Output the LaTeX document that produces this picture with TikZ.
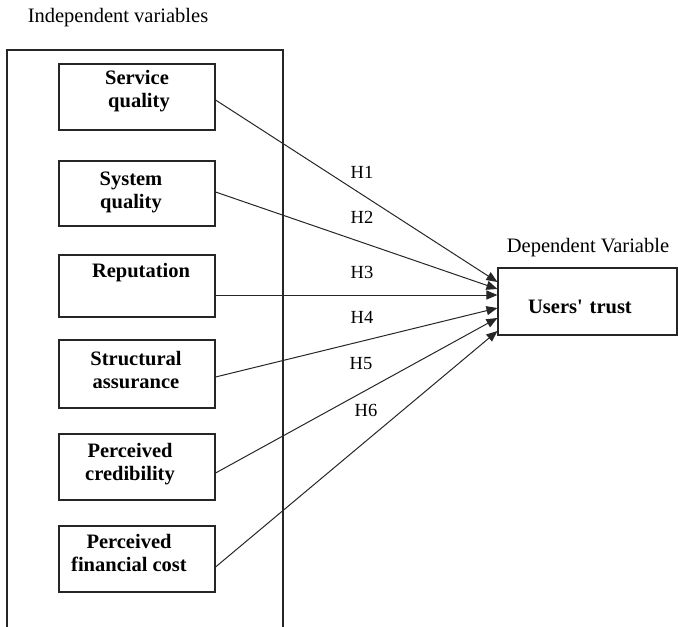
\documentclass[tikz,border=0pt]{standalone}
\usepackage{fontspec}
\setmainfont{Liberation Serif}
\usetikzlibrary{calc,arrows.meta}
\begin{document}
\begin{tikzpicture}[x=1pt,y=-1pt,
  varbox/.style={draw=black!85,line width=1.1pt,minimum width=156pt,inner sep=0pt},
  boxtext/.style={font=\fontsize{20.5}{23}\selectfont\bfseries,align=center,inner sep=0pt},
  plain/.style={font=\fontsize{20.5}{23}\selectfont,inner sep=0pt},
  hlabel/.style={font=\fontsize{18.5}{22}\selectfont,inner sep=0pt},
  hyp/.style={draw=black!85,line width=1pt,-{Triangle[length=11pt,width=9pt]}}]
\useasboundingbox (0,0) rectangle (678,627);
% outer frame (open at bottom)
\coordinate (fbl) at (7,627);
\coordinate (ftl) at (7,50);
\coordinate (ftr) at (283,50);
\coordinate (fbr) at (283,627);
\draw[black!85,line width=1.2pt] (fbl) -- (ftl) -- (ftr) -- (fbr);
\node[plain] (indep) at (118,18) {Independent variables};
\node[plain] (dep) at (588,248) {Dependent Variable};
% independent variable boxes
\node[varbox,minimum height=66pt] (s1) at (137,97) {};
\node[varbox,minimum height=65pt] (s2) at (137,193.5) {};
\node[varbox,minimum height=62pt] (s3) at (137,286) {};
\node[varbox,minimum height=68pt] (s4) at (137,374) {};
\node[varbox,minimum height=66pt] (s5) at (137,467) {};
\node[varbox,minimum height=66pt] (s6) at (137,559) {};
\node[boxtext] (t1) at (137,91) {Service\\ \hspace*{4pt}quality};
\node[boxtext] (t2) at (131,192) {System\\ quality};
\node[boxtext] (t3) at (141,273) {Reputation};
\node[boxtext] (t4) at (136,370) {Structural\\ assurance};
\node[boxtext] (t5) at (130,464) {Perceived\\ credibility};
\node[boxtext] (t6) at (129,553) {Perceived\\ financial cost};
% dependent variable box
\node[varbox,minimum width=179pt,minimum height=67pt] (ut) at (587.5,301.5) {};
\node[boxtext] (utt) at (580,307) {Users\textquotesingle\,\,trust};
% hypotheses
\draw[hyp] ($(s1.east)+(0,3)$) -- ($(ut.west)+(0,-19.5)$);
\draw[hyp] ($(s2.east)+(0,-1.5)$) -- ($(ut.west)+(0,-12.5)$);
\draw[hyp] ($(s3.east)+(0,9)$) -- ($(ut.west)+(0,-6.5)$);
\draw[hyp] ($(s4.east)+(0,3)$) -- ($(ut.west)+(0,6.5)$);
\draw[hyp] ($(s5.east)+(0,6)$) -- ($(ut.west)+(0,16.5)$);
\draw[hyp] ($(s6.east)+(0,8)$) -- ($(ut.west)+(0,29.5)$);
\node[hlabel] (h1) at (362,172) {H1};
\node[hlabel] (h2) at (362,217) {H2};
\node[hlabel] (h3) at (362,272) {H3};
\node[hlabel] (h4) at (362,317) {H4};
\node[hlabel] (h5) at (361,364) {H5};
\node[hlabel] (h6) at (366,410) {H6};
\end{tikzpicture}
\end{document}
